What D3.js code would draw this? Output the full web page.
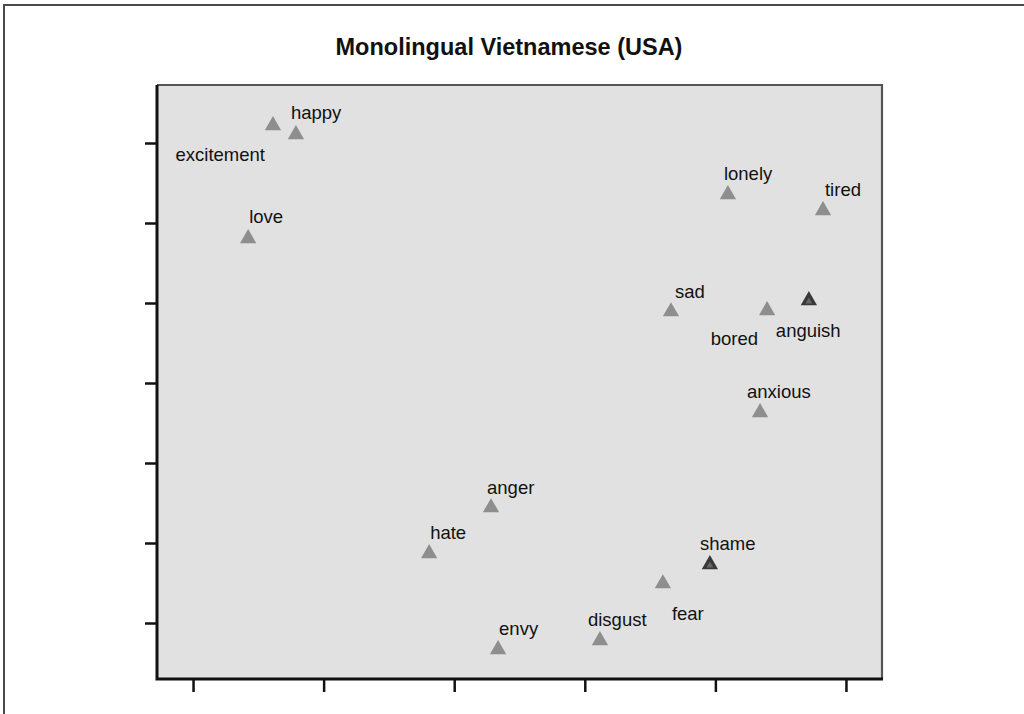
<!DOCTYPE html>
<html>
<head>
<meta charset="utf-8">
<script src="https://cdn.jsdelivr.net/npm/d3@7/dist/d3.min.js"></script>
<style>
  html, body { margin: 0; padding: 0; background: #fff; }
  svg { display: block; }
  text { font-family: "Liberation Sans", Arial, sans-serif; }
</style>
</head>
<body>
<svg id="chart" width="1024" height="714"></svg>
<script>
// ---- data (axis units are arbitrary MDS dimensions) ----
const emotions = ["excitement","happy","love","lonely","tired","sad","bored","anguish",
                  "anxious","anger","hate","shame","fear","disgust","envy"];
const dim1 = [-1.194,-1.106,-1.289, 0.548, 0.912, 0.330, 0.698, 0.858,
               0.671,-0.359,-0.596, 0.479, 0.299, 0.058,-0.332];
const dim2 = [ 1.619, 1.5625, 0.9125, 1.1875, 1.0875, 0.456, 0.4625, 0.525,
              -0.175,-0.769,-1.056,-1.125,-1.244,-1.600,-1.656];
const overlapped = ["anguish","shame"];   // drawn with a darker marker
const xTicks = [-1.5,-1.0,-0.5,0.0,0.5,1.0];
const yTicks = [1.5,1.0,0.5,0.0,-0.5,-1.0,-1.5];
const title = "Monolingual Vietnamese (USA)";

// ---- layout ----
const plot = {left:157, top:85, right:882, bottom:679};
const labelOffsets = {
  excitement:{dx:-8, dy:31, anchor:"end"},
  happy:{dx:-5, dy:-20, anchor:"start"},
  love:{dx:1, dy:-20, anchor:"start"},
  lonely:{dx:-4, dy:-19, anchor:"start"},
  tired:{dx:2, dy:-19, anchor:"start"},
  sad:{dx:4, dy:-19, anchor:"start"},
  bored:{dx:-9, dy:30, anchor:"end"},
  anguish:{dx:-33, dy:32, anchor:"start"},
  anxious:{dx:-13, dy:-19, anchor:"start"},
  anger:{dx:-4, dy:-19, anchor:"start"},
  hate:{dx:1, dy:-19, anchor:"start"},
  shame:{dx:-10, dy:-19, anchor:"start"},
  fear:{dx:9, dy:31, anchor:"start"},
  disgust:{dx:-12, dy:-19, anchor:"start"},
  envy:{dx:1, dy:-19, anchor:"start"}
};

const svg = d3.select("#chart");

// outer frame (extends past right/bottom edge)
svg.append("rect")
  .attr("x", 4).attr("y", 5).attr("width", 1040).attr("height", 740)
  .attr("fill", "none").attr("stroke", "#4a4a4a").attr("stroke-width", 2);

// title
svg.append("text")
  .attr("x", 509).attr("y", 55)
  .attr("text-anchor", "middle")
  .attr("font-size", 23.5).attr("font-weight", "bold").attr("fill", "#111")
  .text(title);

const x = d3.scaleLinear().domain([-1.638, 1.138]).range([plot.left, plot.right]);
const y = d3.scaleLinear().domain([1.8625, -1.85]).range([plot.top, plot.bottom]);

// plot background
svg.append("rect")
  .attr("x", plot.left).attr("y", plot.top)
  .attr("width", plot.right - plot.left).attr("height", plot.bottom - plot.top)
  .attr("fill", "#e1e1e1");

// top/right border (thinner, grey)
svg.append("path")
  .attr("d", `M${plot.left},${plot.top}H${plot.right}V${plot.bottom}`)
  .attr("fill", "none").attr("stroke", "#555").attr("stroke-width", 2.2);

// axes
const xAxis = d3.axisBottom(x).tickValues(xTicks).tickSize(13).tickSizeOuter(0).tickFormat("");
const yAxis = d3.axisLeft(y).tickValues(yTicks).tickSize(12).tickSizeOuter(0).tickFormat("");

const gx = svg.append("g").attr("transform", `translate(0,${plot.bottom})`).call(xAxis);
const gy = svg.append("g").attr("transform", `translate(${plot.left},0)`).call(yAxis);
[gx, gy].forEach(g => {
  g.select(".domain").remove();
  g.selectAll(".tick line").attr("stroke", "#111").attr("stroke-width", 2.5);
});
// left and bottom axis lines (thick, black)
svg.append("path")
  .attr("d", `M${plot.left},${plot.top}V${plot.bottom}H${plot.right+1}`)
  .attr("fill", "none").attr("stroke", "#111").attr("stroke-width", 3);

// points
const pts = emotions.map((e, i) => ({name:e, x:dim1[i], y:dim2[i]}));
const tri = d3.symbol().type(d3.symbolTriangle).size(115);

svg.append("g").selectAll("path")
  .data(pts).join("path")
  .attr("transform", d => `translate(${x(d.x)},${y(d.y) + 1.5})`)
  .attr("d", tri)
  .attr("fill", d => overlapped.includes(d.name) ? "#383838" : "#8e8e8e");

// inner lighter mark on the overlapped (dark) markers
svg.append("g").selectAll("path")
  .data(pts.filter(d => overlapped.includes(d.name))).join("path")
  .attr("transform", d => `translate(${x(d.x)},${y(d.y) + 2.5})`)
  .attr("d", d3.symbol().type(d3.symbolTriangle).size(20))
  .attr("fill", "#666");

// labels
svg.append("g").selectAll("text")
  .data(pts).join("text")
  .attr("x", d => x(d.x) + labelOffsets[d.name].dx)
  .attr("y", d => y(d.y) + labelOffsets[d.name].dy)
  .attr("dy", "0.35em")
  .attr("text-anchor", d => labelOffsets[d.name].anchor)
  .attr("font-size", 18.5).attr("fill", "#111")
  .text(d => d.name);
</script>
</body>
</html>
